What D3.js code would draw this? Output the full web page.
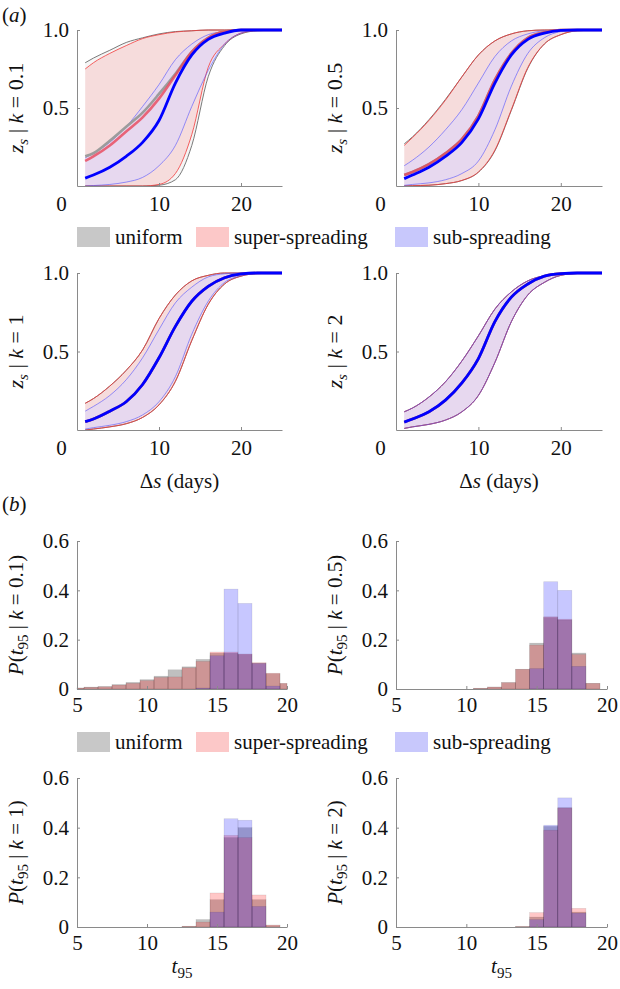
<!DOCTYPE html>
<html>
<head>
<meta charset="utf-8">
<script src="https://cdn.jsdelivr.net/npm/d3@7"></script>
<style>
body{margin:0;background:#fff;}
svg{display:block;font-family:"Liberation Serif","Times New Roman",serif;}
.axis path,.axis line{stroke:#8a8a8a;stroke-width:1;}
.axis text{font-size:21px;fill:#111;font-family:"Liberation Serif",serif;}
.lab{font-size:21px;fill:#111;}
</style>
</head>
<body>
<svg width="620" height="989"></svg>
<script>
// ---- data ----
const sGrid = [1, 2, 4, 6, 8, 10, 12, 14, 16, 18, 20, 22, 25];  // Δs (days)
const kValues = ["0.1", "0.5", "1", "2"];
const seriesNames = ["uniform", "super-spreading", "sub-spreading"];

// z_s bands, one row per k
const uniformLo = [
  [0, 0, 0, 0, 0, 0.005, 0.04, 0.26, 0.70, 0.90, 0.975, 0.995, 1],
  [0, 0.002, 0.005, 0.015, 0.035, 0.088, 0.225, 0.485, 0.755, 0.91, 0.97, 0.995, 1],
  [0, 0.006, 0.02, 0.04, 0.08, 0.16, 0.31, 0.57, 0.80, 0.93, 0.98, 0.996, 1],
  [0.01, 0.02, 0.036, 0.063, 0.116, 0.22, 0.43, 0.69, 0.86, 0.94, 0.985, 0.997, 1]];
const uniformMid = [
  [0.19, 0.21, 0.29, 0.38, 0.47, 0.59, 0.72, 0.86, 0.95, 0.99, 1, 1, 1],
  [0.07, 0.09, 0.14, 0.21, 0.30, 0.45, 0.68, 0.85, 0.95, 0.985, 1, 1, 1],
  [0.053, 0.07, 0.12, 0.18, 0.29, 0.46, 0.66, 0.82, 0.915, 0.97, 0.994, 1, 1],
  [0.05, 0.07, 0.116, 0.19, 0.30, 0.455, 0.69, 0.846, 0.93, 0.98, 0.996, 1, 1]];
const uniformHi = [
  [0.79, 0.82, 0.87, 0.92, 0.95, 0.975, 0.99, 0.995, 1, 1, 1, 1, 1],
  [0.27, 0.315, 0.425, 0.555, 0.70, 0.84, 0.93, 0.975, 0.995, 1, 1, 1, 1],
  [0.17, 0.20, 0.28, 0.38, 0.51, 0.71, 0.86, 0.95, 0.985, 1, 1, 1, 1],
  [0.116, 0.14, 0.21, 0.307, 0.44, 0.60, 0.77, 0.88, 0.95, 0.983, 0.997, 1, 1]];
const superLo = [
  [0, 0, 0, 0, 0, 0.01, 0.08, 0.33, 0.76, 0.91, 0.98, 0.997, 1],
  [0, 0.002, 0.005, 0.015, 0.036, 0.09, 0.23, 0.49, 0.76, 0.91, 0.97, 0.995, 1],
  [0, 0.006, 0.02, 0.04, 0.08, 0.16, 0.31, 0.57, 0.80, 0.93, 0.98, 0.996, 1],
  [0.01, 0.02, 0.036, 0.063, 0.116, 0.22, 0.43, 0.69, 0.86, 0.94, 0.985, 0.997, 1]];
const superMid = [
  [0.16, 0.19, 0.26, 0.35, 0.44, 0.56, 0.71, 0.86, 0.95, 0.99, 1, 1, 1],
  [0.07, 0.09, 0.14, 0.21, 0.30, 0.45, 0.68, 0.85, 0.95, 0.985, 1, 1, 1],
  [0.053, 0.07, 0.12, 0.18, 0.29, 0.46, 0.66, 0.82, 0.915, 0.97, 0.994, 1, 1],
  [0.05, 0.07, 0.116, 0.19, 0.30, 0.455, 0.69, 0.846, 0.93, 0.98, 0.996, 1, 1]];
const superHi = [
  [0.75, 0.79, 0.85, 0.90, 0.945, 0.97, 0.987, 0.995, 1, 1, 1, 1, 1],
  [0.26, 0.31, 0.42, 0.55, 0.70, 0.84, 0.93, 0.975, 0.995, 1, 1, 1, 1],
  [0.17, 0.20, 0.28, 0.38, 0.51, 0.71, 0.86, 0.95, 0.985, 1, 1, 1, 1],
  [0.116, 0.14, 0.21, 0.307, 0.44, 0.60, 0.77, 0.88, 0.95, 0.983, 0.997, 1, 1]];
const subLo = [
  [0, 0.003, 0.01, 0.025, 0.055, 0.13, 0.26, 0.51, 0.74, 0.91, 0.98, 1, 1],
  [0.004, 0.01, 0.02, 0.04, 0.08, 0.16, 0.36, 0.64, 0.85, 0.95, 0.99, 1, 1],
  [0.006, 0.015, 0.03, 0.053, 0.096, 0.18, 0.34, 0.61, 0.82, 0.94, 0.983, 0.997, 1],
  [0.01, 0.02, 0.036, 0.063, 0.116, 0.22, 0.43, 0.69, 0.86, 0.94, 0.985, 0.997, 1]];
const subMid = [
  [0.05, 0.07, 0.12, 0.19, 0.28, 0.42, 0.66, 0.84, 0.94, 0.98, 1, 1, 1],
  [0.047, 0.07, 0.12, 0.19, 0.28, 0.43, 0.66, 0.84, 0.94, 0.98, 0.997, 1, 1],
  [0.053, 0.07, 0.12, 0.18, 0.29, 0.46, 0.66, 0.82, 0.915, 0.97, 0.994, 1, 1],
  [0.05, 0.07, 0.116, 0.19, 0.30, 0.455, 0.69, 0.846, 0.93, 0.98, 0.996, 1, 1]];
const subHi = [
  [0.18, 0.21, 0.28, 0.38, 0.51, 0.65, 0.81, 0.91, 0.97, 0.99, 1, 1, 1],
  [0.13, 0.165, 0.25, 0.36, 0.49, 0.66, 0.83, 0.93, 0.975, 0.995, 1, 1, 1],
  [0.12, 0.15, 0.22, 0.32, 0.46, 0.64, 0.81, 0.91, 0.975, 0.995, 1, 1, 1],
  [0.116, 0.14, 0.21, 0.307, 0.44, 0.60, 0.77, 0.88, 0.95, 0.983, 0.997, 1, 1]];

// t95 histograms, bins centred on 5..20
const t95Bins = [5, 6, 7, 8, 9, 10, 11, 12, 13, 14, 15, 16, 17, 18, 19, 20];
const histUniform = [
  [0.004, 0.008, 0.010, 0.018, 0.027, 0.038, 0.052, 0.078, 0.090, 0.120, 0.145, 0.145, 0.140, 0.104, 0.062, 0.022],
  [0, 0, 0, 0, 0, 0, 0.003, 0.008, 0.026, 0.08, 0.186, 0.29, 0.28, 0.146, 0.023, 0],
  [0, 0, 0, 0, 0, 0, 0, 0, 0.003, 0.03, 0.11, 0.36, 0.40, 0.11, 0.006, 0],
  [0, 0, 0, 0, 0, 0, 0, 0, 0, 0.002, 0.04, 0.405, 0.48, 0.06, 0, 0]];
const histSuper = [
  [0.004, 0.007, 0.009, 0.016, 0.023, 0.034, 0.047, 0.049, 0.086, 0.112, 0.150, 0.150, 0.142, 0.107, 0.064, 0.023],
  [0, 0, 0, 0, 0, 0, 0.003, 0.008, 0.026, 0.08, 0.178, 0.293, 0.283, 0.14, 0.023, 0],
  [0, 0, 0, 0, 0, 0, 0, 0, 0.003, 0.02, 0.137, 0.369, 0.36, 0.129, 0.008, 0],
  [0, 0, 0, 0, 0, 0, 0, 0, 0, 0.002, 0.058, 0.39, 0.48, 0.075, 0, 0]];
const histSub = [
  [0, 0, 0, 0, 0, 0, 0, 0, 0, 0.004, 0.135, 0.405, 0.347, 0.104, 0.012, 0],
  [0, 0, 0, 0, 0, 0, 0, 0, 0, 0, 0.083, 0.435, 0.40, 0.092, 0, 0],
  [0, 0, 0, 0, 0, 0, 0, 0, 0, 0, 0.06, 0.436, 0.43, 0.083, 0, 0],
  [0, 0, 0, 0, 0, 0, 0, 0, 0, 0, 0.03, 0.41, 0.52, 0.056, 0, 0]];

// ---- styles ----
let bandFill = ["rgba(0,0,0,0.04)", "rgba(255,0,0,0.10)", "rgba(220,214,253,0.58)"];
let edgeColor = ["#7a7a7a", "#f23a3a", "rgba(80,80,255,0.75)"];
let edgeWidth = [1, 0.8, 0.8];
let midColor = ["#9c9c9c", "rgba(232,70,90,0.8)", "#0000ff"];
let midWidth = [2.6, 2.6, 2.8];
let barFill = ["rgba(0,0,0,0.25)", "rgba(255,0,0,0.22)", "rgba(0,0,255,0.22)"];
let swatchFill = ["#c8c8c8", "#fcc8c8", "#c8c8fc"];

let svg = d3.select("svg");

// panel boxes (pixels)
let curveBoxes = [
  {x0: 77, x1: 282, yb: 186, yt: 30},
  {x0: 396, x1: 602, yb: 186, yt: 30},
  {x0: 77, x1: 282, yb: 430, yt: 273},
  {x0: 396, x1: 602, yb: 430, yt: 273}];
let histBoxes = [
  {x0: 77, x1: 287, yb: 689, yt: 541},
  {x0: 396, x1: 607, yb: 689, yt: 541},
  {x0: 77, x1: 287, yb: 927, yt: 778},
  {x0: 396, x1: 607, yb: 927, yt: 778}];

function yLabel(g, cx, cy, parts, size){  // rotated label built from tspans
  let t = g.append("text")
    .attr("class", "lab")
    .attr("text-anchor", "middle")
    .style("font-size", size + "px")
    .attr("transform", `translate(${cx},${cy}) rotate(-90)`);
  parts.forEach(p => {
    let s = t.append("tspan").text(p.t);
    if(p.i) s.style("font-style", "italic");
    if(p.sub) s.attr("dy", 5).style("font-size", "15px");
    if(p.up) s.attr("dy", -5);
  });
  return t;
}

// ---- (a) curves ----
kValues.forEach((k, i) => {
  let b = curveBoxes[i];
  let x = d3.scaleLinear().domain([0, 25]).range([b.x0, b.x1]);
  let y = d3.scaleLinear().domain([0, 1]).range([b.yb, b.yt]);
  let g = svg.append("g");

  let los = [uniformLo[i], superLo[i], subLo[i]];
  let mids = [uniformMid[i], superMid[i], subMid[i]];
  let his = [uniformHi[i], superHi[i], subHi[i]];

  let area = d3.area()
    .x(d => x(d.s)).y0(d => y(d.lo)).y1(d => y(d.hi))
    .curve(d3.curveMonotoneX);
  let line = d3.line()
    .x(d => x(d.s)).y(d => y(d.v))
    .curve(d3.curveMonotoneX);

  for(let j = 0; j < 3; j++){
    let pts = sGrid.map((s, n) => ({s: s, lo: los[j][n], hi: his[j][n]}));
    g.append("path").attr("d", area(pts)).attr("fill", bandFill[j]);
  }
  for(let j = 0; j < 3; j++){
    [los[j], his[j]].forEach(arr => {
      g.append("path")
        .attr("d", line(sGrid.map((s, n) => ({s: s, v: arr[n]}))))
        .attr("fill", "none")
        .attr("stroke", edgeColor[j])
        .attr("stroke-width", edgeWidth[j]);
    });
  }
  for(let j = 0; j < 3; j++){
    g.append("path")
      .attr("d", line(sGrid.map((s, n) => ({s: s, v: mids[j][n]}))))
      .attr("fill", "none")
      .attr("stroke", midColor[j])
      .attr("stroke-width", midWidth[j]);
  }

  let xa = g.append("g").attr("class", "axis")
    .attr("transform", `translate(0,${b.yb})`)
    .call(d3.axisBottom(x).tickValues([0, 10, 20]).tickSize(-3).tickSizeOuter(0).tickPadding(10).tickFormat(d3.format("d")));
  xa.selectAll(".tick").filter(d => d == 0).select("text").attr("dx", -16);
  xa.selectAll(".tick").filter(d => d == 0).select("line").remove();
  g.append("g").attr("class", "axis")
    .attr("transform", `translate(${b.x0},0)`)
    .call(d3.axisLeft(y).tickValues([0.5, 1]).tickSize(-3).tickSizeOuter(0).tickPadding(8).tickFormat(d3.format(".1f")));

  yLabel(g, b.x0 - 54, (b.yb + b.yt) / 2, [
    {t: "z", i: true}, {t: "s", i: true, sub: true}, {t: " | ", up: true}, {t: "k", i: true}, {t: " = " + k}], 22);

  if(i >= 2){
    let t = g.append("text").attr("class", "lab").attr("text-anchor", "middle")
      .attr("x", (b.x0 + b.x1) / 2).attr("y", b.yb + 58);
    t.append("tspan").text("\u0394");
    t.append("tspan").text("s").style("font-style", "italic");
    t.append("tspan").text(" (days)");
  }
});

// ---- (b) histograms ----
kValues.forEach((k, i) => {
  let b = histBoxes[i];
  let x = d3.scaleLinear().domain([5, 20]).range([b.x0, b.x1]);
  let y = d3.scaleLinear().domain([0, 0.6]).range([b.yb, b.yt]);
  let g = svg.append("g");
  let sets = [histUniform[i], histSuper[i], histSub[i]];

  sets.forEach((vals, j) => {
    g.selectAll(null)
      .data(t95Bins.map((c, n) => ({c: c, v: vals[n]})).filter(d => d.v > 0))
      .enter()
      .append("rect")
      .attr("x", d => x(Math.max(5, d.c - 0.5)))
      .attr("width", d => x(Math.min(20, d.c + 0.5)) - x(Math.max(5, d.c - 0.5)))
      .attr("y", d => y(d.v))
      .attr("height", d => y(0) - y(d.v))
      .attr("fill", barFill[j])
      .attr("stroke", "rgba(0,0,0,0.12)")
      .attr("stroke-width", 0.6);
  });

  g.append("g").attr("class", "axis")
    .attr("transform", `translate(0,${b.yb})`)
    .call(d3.axisBottom(x).tickValues([5, 10, 15, 20]).tickSize(-3).tickSizeOuter(0).tickPadding(8).tickFormat(d3.format("d")));
  g.append("g").attr("class", "axis")
    .attr("transform", `translate(${b.x0},0)`)
    .call(d3.axisLeft(y).tickValues([0, 0.2, 0.4, 0.6]).tickSize(-3).tickSizeOuter(0).tickPadding(8).tickFormat(d => d == 0 ? "0" : d3.format(".1f")(d)));

  yLabel(g, b.x0 - 54, (b.yb + b.yt) / 2, [
    {t: "P", i: true}, {t: "("}, {t: "t", i: true}, {t: "95", sub: true}, {t: " | ", up: true}, {t: "k", i: true}, {t: " = " + k + ")"}], 21);

  if(i >= 2){
    let t = g.append("text").attr("class", "lab").attr("text-anchor", "middle")
      .attr("x", (b.x0 + b.x1) / 2).attr("y", b.yb + 46);
    t.append("tspan").text("t").style("font-style", "italic");
    t.append("tspan").text("95").attr("dy", 5).style("font-size", "15px");
  }
});

// ---- legends ----
let swatchX = [77, 196, 395];
[237, 742].forEach(ly => {
  seriesNames.forEach((name, j) => {
    svg.append("rect")
      .attr("x", swatchX[j]).attr("y", ly - 10)
      .attr("width", 33).attr("height", 20)
      .attr("fill", swatchFill[j]);
    svg.append("text").attr("class", "lab")
      .attr("x", swatchX[j] + 38).attr("y", ly + 7)
      .text(name);
  });
});

// panel letters
[["a", 22], ["b", 511]].forEach(p => {
  let t = svg.append("text").attr("class", "lab").attr("x", 2).attr("y", p[1]);
  t.append("tspan").text("(");
  t.append("tspan").text(p[0]).style("font-style", "italic");
  t.append("tspan").text(")");
});
</script>
</body>
</html>
